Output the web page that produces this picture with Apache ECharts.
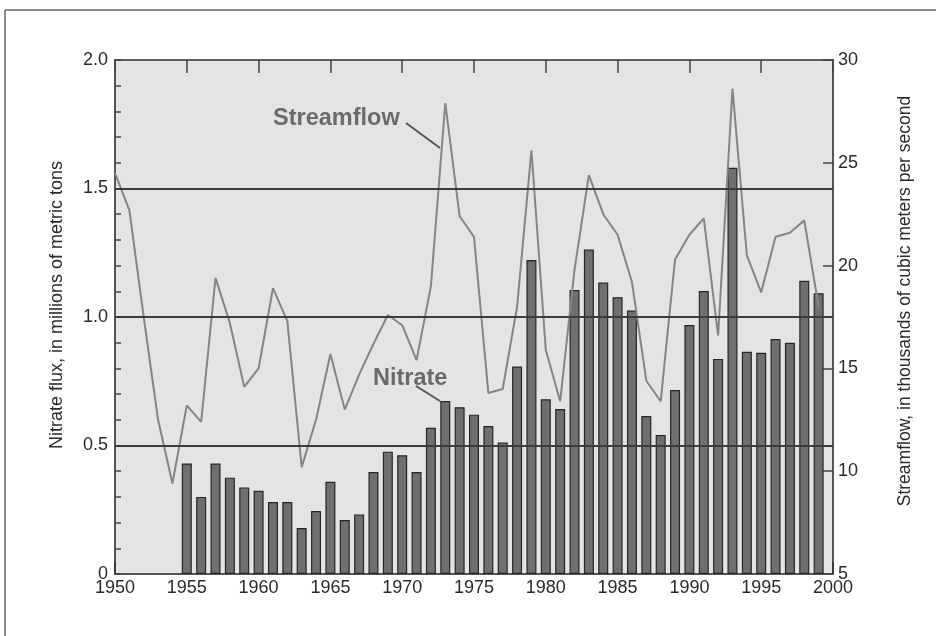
<!DOCTYPE html>
<html>
<head>
<meta charset="utf-8">
<script src="https://cdn.jsdelivr.net/npm/echarts@6/dist/echarts.min.js"></script>
<style>
html,body{margin:0;padding:0;background:#fff;}
#chart{width:936px;height:636px;}
</style>
</head>
<body>
<div id="chart"></div>
<script>
// ---- Data ----
const flowYears = [1950,1951,1952,1953,1954,1955,1956,1957,1958,1959,1960,1961,1962,1963,1964,1965,1966,1967,1968,1969,1970,1971,1972,1973,1974,1975,1976,1977,1978,1979,1980,1981,1982,1983,1984,1985,1986,1987,1988,1989,1990,1991,1992,1993,1994,1995,1996,1997,1998,1999];
const streamflow = [24.5,22.7,17.5,12.5,9.4,13.2,12.4,19.4,17.2,14.1,15.0,18.9,17.3,10.2,12.5,15.7,13.0,14.7,16.2,17.6,17.1,15.4,19.0,27.9,22.4,21.4,13.8,14.0,18.0,25.6,15.9,13.4,19.8,24.4,22.5,21.5,19.2,14.4,13.4,20.3,21.5,22.3,16.6,28.6,20.5,18.7,21.4,21.6,22.2,18.0];
const nitrateYears = [1955,1956,1957,1958,1959,1960,1961,1962,1963,1964,1965,1966,1967,1968,1969,1970,1971,1972,1973,1974,1975,1976,1977,1978,1979,1980,1981,1982,1983,1984,1985,1986,1987,1988,1989,1990,1991,1992,1993,1994,1995,1996,1997,1998,1999];
const nitrate = [0.43,0.30,0.43,0.375,0.337,0.324,0.28,0.28,0.179,0.245,0.359,0.21,0.232,0.397,0.476,0.462,0.397,0.569,0.673,0.649,0.62,0.576,0.512,0.807,1.222,0.68,0.642,1.105,1.263,1.134,1.077,1.025,0.615,0.541,0.716,0.969,1.101,0.837,1.581,0.865,0.861,0.914,0.90,1.141,1.092];
const referenceLines = [0.5, 1.0, 1.5];
const leftTitle = 'Nitrate flux, in millions of metric tons';
const rightTitle = 'Streamflow, in thousands of cubic meters per second';

const tickFont = '"Liberation Sans",Arial,sans-serif';

const chart = echarts.init(document.getElementById('chart'), null, {renderer:'canvas'});
const option = {
  animation: false,
  backgroundColor: '#ffffff',
  grid: {left:115, right:103, top:60, bottom:62, show:true, backgroundColor:'#e4e4e4', borderColor:'#555', borderWidth:1.5},
  xAxis: [{
    type:'value', min:1950, max:2000, interval:5, position:'bottom',
    axisLine:{show:true, lineStyle:{color:'#555', width:2}},
    axisTick:{show:true, inside:true, length:12, lineStyle:{color:'#333', width:1.5}},
    axisLabel:{color:'#2a2a2a', fontFamily:tickFont, fontSize:18, margin:5, formatter:v=>String(v)},
    splitLine:{show:false}
  },{
    type:'value', min:1950, max:2000, interval:5, position:'top',
    axisLine:{show:true, lineStyle:{color:'#555', width:1.5}},
    axisTick:{show:true, inside:true, length:13, lineStyle:{color:'#444', width:1.5}},
    axisLabel:{show:false}, splitLine:{show:false}
  }],
  yAxis: [{
    type:'value', min:0, max:2, interval:0.5, position:'left',
    axisLine:{show:true, lineStyle:{color:'#555', width:2}},
    axisTick:{show:true, inside:true, length:6, lineStyle:{color:'#444', width:1.5}},
    minorTick:{show:true, splitNumber:5, length:6, lineStyle:{color:'#444', width:1.5}},
    axisLabel:{color:'#2a2a2a', fontFamily:tickFont, fontSize:18, margin:7, formatter:v=> v===0 ? '0' : v.toFixed(1)},
    splitLine:{show:false}
  },{
    type:'value', min:5, max:30, interval:5, position:'right',
    axisLine:{show:true, lineStyle:{color:'#555', width:2}},
    axisTick:{show:true, inside:true, length:10, lineStyle:{color:'#444', width:1.5}},
    axisLabel:{color:'#2a2a2a', fontFamily:tickFont, fontSize:18, margin:5},
    splitLine:{show:false}
  }],
  series: [{
    name:'Nitrate', type:'bar', xAxisIndex:0, yAxisIndex:0, z:2,
    barWidth:10,
    itemStyle:{color:'#6f6f6f', borderColor:'#262626', borderWidth:1.2},
    data: nitrateYears.map((y,i)=>[y, nitrate[i]])
  },{
    name:'refLines', type:'line', xAxisIndex:0, yAxisIndex:0, z:3,
    data:[], silent:true,
    markLine:{silent:true, symbol:'none', label:{show:false},
      lineStyle:{color:'#3c3c3c', width:2, type:'solid'},
      data: referenceLines.map(v=>({yAxis:v}))}
  },{
    name:'Streamflow', type:'line', xAxisIndex:0, yAxisIndex:1, z:4,
    symbol:'none', lineStyle:{color:'#858585', width:2},
    data: flowYears.map((y,i)=>[y, streamflow[i]])
  }],
  graphic: [
    {type:'line', shape:{x1:5, y1:10, x2:936, y2:10}, style:{stroke:'#666', lineWidth:1.5}},
    {type:'line', shape:{x1:5, y1:10, x2:5, y2:636}, style:{stroke:'#666', lineWidth:1.5}},
    {type:'text', x:57, y:305, rotation:Math.PI/2, z:10,
      style:{text:leftTitle, fill:'#2a2a2a', font:'18px "Liberation Sans",Arial,sans-serif', textAlign:'center', textVerticalAlign:'middle'}},
    {type:'text', x:905, y:301, rotation:Math.PI/2, z:10,
      style:{text:rightTitle, fill:'#2a2a2a', font:'17.5px "Liberation Sans",Arial,sans-serif', textAlign:'center', textVerticalAlign:'middle'}},
    {type:'text', left:273, top:107, z:10, style:{text:'Streamflow', fill:'#6a6a6a', font:'bold 23.5px "Liberation Sans",Arial,sans-serif'}},
    {type:'line', z:10, shape:{x1:406, y1:123, x2:440, y2:148}, style:{stroke:'#555', lineWidth:2}},
    {type:'text', left:373, top:367, z:10, style:{text:'Nitrate', fill:'#6a6a6a', font:'bold 23.5px "Liberation Sans",Arial,sans-serif'}},
    {type:'line', z:10, shape:{x1:416, y1:386, x2:440, y2:401}, style:{stroke:'#555', lineWidth:2}}
  ]
};
chart.setOption(option);
</script>
</body>
</html>
